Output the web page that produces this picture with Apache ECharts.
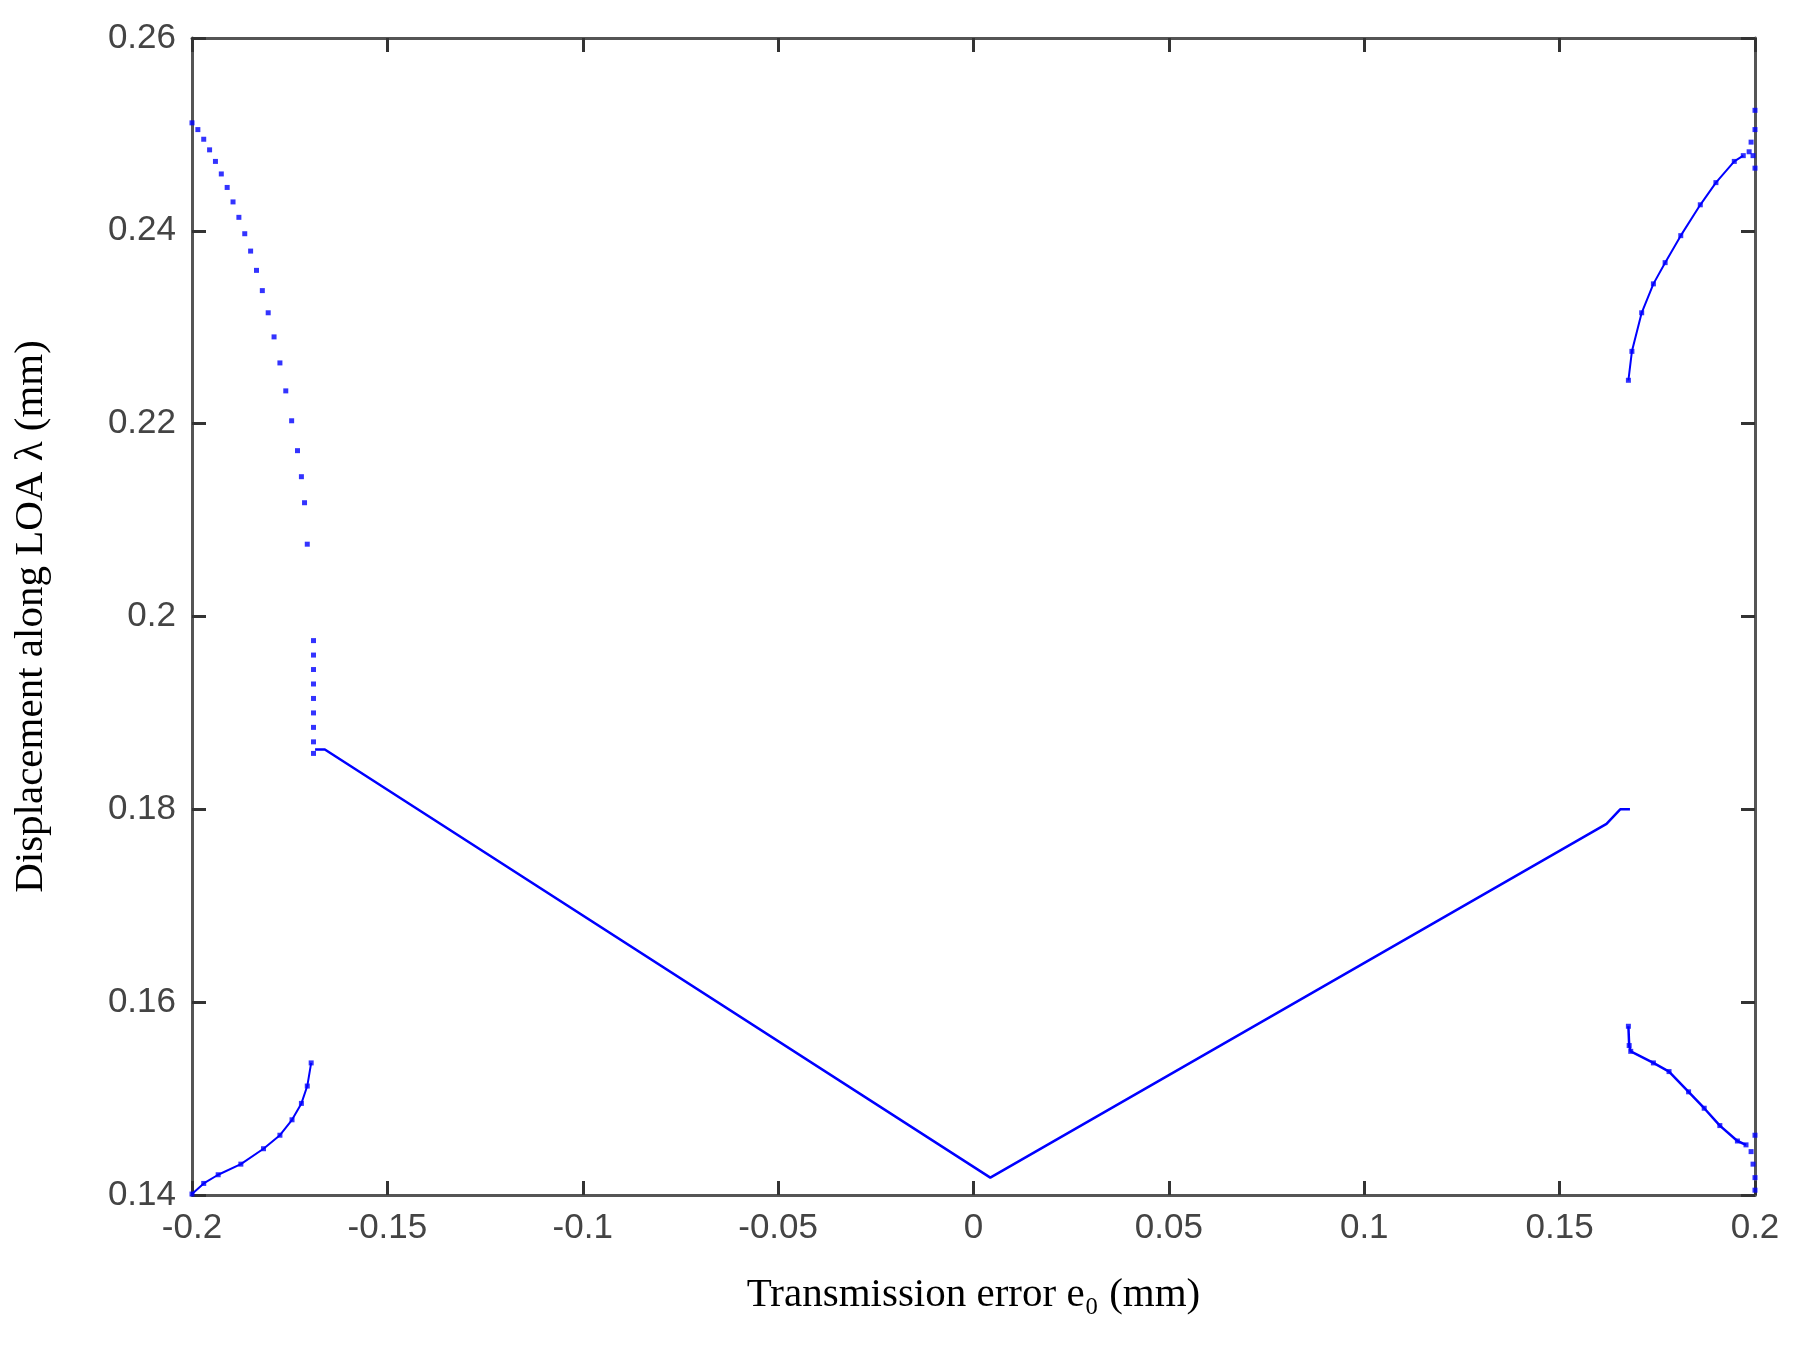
<!DOCTYPE html><html><head><meta charset="utf-8"><script src="https://cdn.jsdelivr.net/npm/echarts@6/dist/echarts.min.js"></script></head><body style="margin:0;background:#fff"><div id="c" style="width:1801px;height:1346px"></div><script>
var xTicks=[-0.2,-0.15,-0.1,-0.05,0,0.05,0.1,0.15,0.2];
var yTicks=[0.14,0.16,0.18,0.2,0.22,0.24,0.26];
var upperLeft=[[-0.2,0.2512],[-0.1985,0.2505],[-0.197,0.2495],[-0.1955,0.2484],[-0.194,0.2472],[-0.1925,0.2459],[-0.191,0.2445],[-0.1895,0.243],[-0.188,0.2414],[-0.1865,0.2397],[-0.185,0.2379],[-0.1835,0.2359],[-0.182,0.2338],[-0.1805,0.2315],[-0.179,0.229],[-0.1775,0.2263],[-0.176,0.2234],[-0.1745,0.2203],[-0.173,0.2172],[-0.172,0.2145],[-0.1712,0.2118],[-0.1705,0.2075]];
var vertLeft=[[-0.1689,0.1975],[-0.1689,0.196],[-0.1689,0.1945],[-0.1689,0.193],[-0.1689,0.1915],[-0.1689,0.19],[-0.1689,0.1885],[-0.1689,0.187],[-0.1689,0.1858]];
var lowerLeft=[[-0.2,0.1401],[-0.197,0.1412],[-0.1933,0.1421],[-0.1875,0.1432],[-0.1817,0.1448],[-0.1775,0.1462],[-0.1744,0.1478],[-0.172,0.1495],[-0.1705,0.1513],[-0.1695,0.1537]];
var mainV=[[-0.1685,0.1862],[-0.166,0.1862],[0.0043,0.1418],[0.162,0.1785],[0.1655,0.18],[0.168,0.18]];
var upperRight=[[0.1676,0.2245],[0.1685,0.2275],[0.171,0.2315],[0.174,0.2345],[0.177,0.2367],[0.181,0.2395],[0.186,0.2427],[0.19,0.245],[0.1947,0.2472],[0.197,0.2478]];
var upperRightTail=[[0.1985,0.2482],[0.199,0.2492],[0.2,0.2465],[0.2,0.2505],[0.2,0.2525],[0.1995,0.2478]];
var lowerRight=[[0.1676,0.1575],[0.1678,0.1555],[0.1682,0.1549],[0.174,0.1537],[0.178,0.1528],[0.183,0.1507],[0.187,0.149],[0.191,0.1472],[0.1955,0.1456],[0.1977,0.1452]];
var lowerRightTail=[[0.199,0.1445],[0.2,0.1462],[0.1995,0.1432],[0.2,0.1418],[0.2,0.1405]];
var c=echarts.init(document.getElementById('c'));
var blue='#0000ff';
function ax(show){return {axisLine:{show:true,onZero:false,lineStyle:{color:'#555',width:3}},axisTick:{show:true,inside:true,length:14,lineStyle:{color:'#333',width:3}},splitLine:{show:false},axisLabel:{show:show,color:'#444',fontSize:35,fontFamily:'Liberation Sans',margin:16,formatter:function(v){return String(+v.toFixed(2));}}};}
var xa=Object.assign(ax(true),{type:'value',min:-0.2,max:0.2,interval:0.05,name:'Transmission error e₀ (mm)',nameLocation:'middle',nameGap:80,nameTextStyle:{fontFamily:'Liberation Serif',fontSize:41,color:'#000'}});
var xb=Object.assign(ax(false),{type:'value',min:-0.2,max:0.2,interval:0.05,position:'top'});
var ya=Object.assign(ax(true),{type:'value',min:0.14,max:0.26,interval:0.02,name:'Displacement along LOA λ (mm)',nameLocation:'middle',nameGap:140,nameTextStyle:{fontFamily:'Liberation Serif',fontSize:41,color:'#000'}});
var yb=Object.assign(ax(false),{type:'value',min:0.14,max:0.26,interval:0.02,position:'right'});
function sc(d){return {type:'scatter',data:d,symbol:'rect',symbolSize:5,itemStyle:{color:blue},silent:true,xAxisIndex:0,yAxisIndex:0};}
function ln(d,w){return {type:'line',data:d,showSymbol:false,lineStyle:{color:blue,width:w},silent:true,xAxisIndex:0,yAxisIndex:0};}
c.setOption({animation:false,grid:{left:192,right:46,top:38,bottom:151},
xAxis:[xa,xb],yAxis:[ya,yb],
series:[sc(upperLeft),sc(vertLeft),ln(lowerLeft,2),sc(lowerLeft),ln(mainV,2.5),ln(upperRight,2),sc(upperRight),sc(upperRightTail),ln(lowerRight,2.5),sc(lowerRight),sc(lowerRightTail)]});
</script></body></html>
